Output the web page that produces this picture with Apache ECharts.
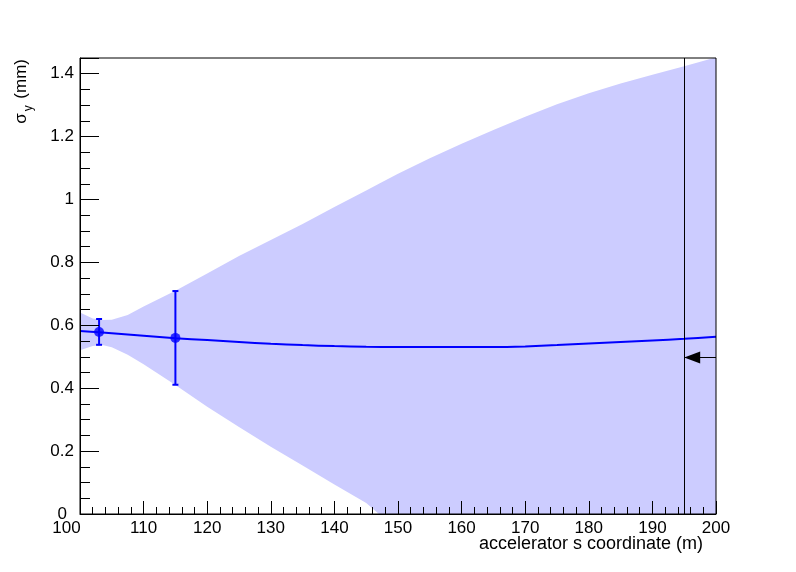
<!DOCTYPE html>
<html>
<head>
<meta charset="utf-8">
<script src="https://cdn.jsdelivr.net/npm/echarts@6.0.0/dist/echarts.min.js"></script>
<style>
html,body{margin:0;padding:0;background:#ffffff;}
#chart{width:796px;height:572px;}
</style>
</head>
<body>
<div id="chart"></div>
<script>
// ---- data ----
// central model curve sigma_y(s)
const sCentral = [100, 103, 105, 110, 115, 120, 125, 130, 135, 140, 145, 150, 155, 160, 165, 170, 175, 180, 185, 190, 195, 200];
const sigmaCentral = [0.582, 0.578, 0.575, 0.567, 0.559, 0.553, 0.547, 0.541, 0.537, 0.534, 0.532, 0.531, 0.531, 0.531, 0.531, 0.533, 0.537, 0.542, 0.547, 0.552, 0.557, 0.564];

// uncertainty band
const sBand = [100, 102, 103.5, 105, 107.5, 110, 115, 120, 125, 130, 135, 140, 145, 147, 150, 155, 160, 165, 170, 175, 180, 185, 190, 195, 200];
const bandUpper = [0.641, 0.622, 0.617, 0.618, 0.633, 0.660, 0.710, 0.765, 0.820, 0.871, 0.922, 0.976, 1.029, 1.050, 1.082, 1.131, 1.177, 1.221, 1.263, 1.303, 1.338, 1.369, 1.397, 1.424, 1.452];
const bandLower = [0.521, 0.534, 0.537, 0.530, 0.506, 0.476, 0.410, 0.341, 0.277, 0.214, 0.154, 0.094, 0.035, 0, 0, 0, 0, 0, 0, 0, 0, 0, 0, 0, 0];

// measured points with errors
const measS = [103, 115];
const measSigma = [0.579, 0.560];
const measErr = [0.041, 0.149];

// vertical marker and arrow
const markerS = 195;
const arrowFromS = 200;
const arrowToS = 195;
const arrowSigma = 0.498;

// axes
const xMin = 100, xMax = 200, xStep = 10;
const yMin = 0, yMax = 1.45, yStep = 0.2, yMinorStep = 0.05;

const xTitle = 'accelerator s coordinate (m)';

// ---- chart ----
const FONT = 'Liberation Sans';
const LABEL_SIZE = 17;
const chart = echarts.init(document.getElementById('chart'), null, {renderer: 'canvas'});

const option = {
  animation: false,
  backgroundColor: '#ffffff',
  grid: {
    left: 80, right: 80, top: 58, bottom: 58,
    show: true, borderColor: '#000000', borderWidth: 1,
    backgroundColor: 'transparent', z: 10
  },
  xAxis: {
    type: 'value', min: xMin, max: xMax, interval: xStep, z: 10,
    axisLine: {show: true, lineStyle: {color: '#000000', width: 1}},
    axisTick: {show: true, inside: true, length: 13, lineStyle: {color: '#000000', width: 1}},
    minorTick: {show: true, splitNumber: 5, length: 7, lineStyle: {color: '#000000', width: 1}},
    splitLine: {show: false},
    minorSplitLine: {show: false},
    axisLabel: {
      color: '#000000', fontFamily: FONT, fontSize: LABEL_SIZE, margin: 6,
      formatter: function (v) { return v === xMin ? '{f|' + v + '}' : String(v); },
      rich: {f: {color: '#000000', fontFamily: FONT, fontSize: LABEL_SIZE, padding: [0, 27, 0, 0]}}
    }
  },
  yAxis: [
    {
      type: 'value', min: yMin, max: yMax, interval: yStep, position: 'left', z: 10,
      axisLine: {show: true, lineStyle: {color: '#000000', width: 1}},
      axisTick: {show: true, inside: true, length: 19, lineStyle: {color: '#000000', width: 1}},
      splitLine: {show: false},
      axisLabel: {
        color: '#000000', fontFamily: FONT, fontSize: LABEL_SIZE, margin: 6,
        formatter: function (v) {
          if (v > 1.41) return '';
          if (v === 0) return '{z|0}';
          return String(Math.round(v * 10) / 10);
        },
        rich: {z: {color: '#000000', fontFamily: FONT, fontSize: LABEL_SIZE, padding: [0, 7, 0, 0]}}
      }
    },
    {
      type: 'value', min: yMin, max: yMax, interval: yMinorStep, position: 'left', z: 10,
      axisLine: {show: false},
      axisTick: {show: true, inside: true, length: 10, lineStyle: {color: '#000000', width: 1}},
      axisLabel: {show: false},
      splitLine: {show: false}
    }
  ],
  graphic: [
    {
      type: 'text', right: 93, top: 535, z: 20,
      style: {text: xTitle, fill: '#000000', font: '18px "Liberation Sans"'}
    },
    {
      type: 'text', x: 21, y: 59, rotation: Math.PI / 2, z: 20,
      style: {
        text: '{a|σ}{b|y}{a| (mm)}',
        align: 'right', verticalAlign: 'middle',
        rich: {
          a: {fontFamily: FONT, fontSize: 17, lineHeight: 28, fill: '#000000', color: '#000000'},
          b: {fontFamily: FONT, fontSize: 12, lineHeight: 12, verticalAlign: 'bottom', padding: [0, 2, 0, 2], fill: '#000000', color: '#000000'}
        }
      }
    }
  ],
  series: [
    {
      type: 'custom', name: 'band', silent: true, clip: true, z: 1,
      xAxisIndex: 0, yAxisIndex: 0,
      data: sBand.map(function (s, i) { return [s, bandLower[i], bandUpper[i]]; }),
      encode: {x: 0, y: [1, 2]},
      renderItem: function (params, api) {
        if (params.dataIndexInside !== 0) return null;
        const n = params.dataInsideLength;
        const top = [], bot = [];
        for (let i = 0; i < n; i++) {
          const s = api.value(0, i);
          top.push(api.coord([s, api.value(2, i)]));
          bot.push(api.coord([s, api.value(1, i)]));
        }
        return {
          type: 'polygon',
          shape: {points: top.concat(bot.reverse())},
          style: {fill: '#ccccff', stroke: null}
        };
      }
    },
    {
      type: 'line', name: 'model', silent: true, z: 3,
      xAxisIndex: 0, yAxisIndex: 0,
      data: sCentral.map(function (s, i) { return [s, sigmaCentral[i]]; }),
      showSymbol: false, smooth: 0.3,
      lineStyle: {color: '#0000ff', width: 2},
      markLine: {
        silent: true, animation: false,
        symbol: 'none',
        label: {show: false},
        lineStyle: {color: '#000000', width: 1, type: 'solid'},
        data: [
          {xAxis: markerS},
          [
            {coord: [arrowFromS, arrowSigma], symbol: 'none'},
            {coord: [arrowToS, arrowSigma], symbol: 'triangle', symbolSize: [12, 16], symbolOffset: [0, 8]}
          ]
        ]
      }
    },
    {
      type: 'custom', name: 'errors', silent: true, z: 4,
      xAxisIndex: 0, yAxisIndex: 0,
      data: measS.map(function (s, i) { return [s, measSigma[i], measErr[i]]; }),
      encode: {x: 0, y: [1]},
      renderItem: function (params, api) {
        const s = api.value(0), y = api.value(1), e = api.value(2);
        const top = api.coord([s, y + e]);
        const bot = api.coord([s, y - e]);
        const cap = 3;
        const st = {stroke: '#0000ff', lineWidth: 2};
        return {
          type: 'group',
          children: [
            {type: 'line', shape: {x1: top[0], y1: top[1], x2: bot[0], y2: bot[1]}, style: st},
            {type: 'line', shape: {x1: top[0] - cap, y1: top[1], x2: top[0] + cap, y2: top[1]}, style: st},
            {type: 'line', shape: {x1: bot[0] - cap, y1: bot[1], x2: bot[0] + cap, y2: bot[1]}, style: st}
          ]
        };
      }
    },
    {
      type: 'scatter', name: 'measured', silent: true, z: 5,
      xAxisIndex: 0, yAxisIndex: 0,
      data: measS.map(function (s, i) { return [s, measSigma[i]]; }),
      symbol: 'circle', symbolSize: 10,
      itemStyle: {color: '#0000ff'}
    }
  ]
};

chart.setOption(option);
</script>
</body>
</html>
